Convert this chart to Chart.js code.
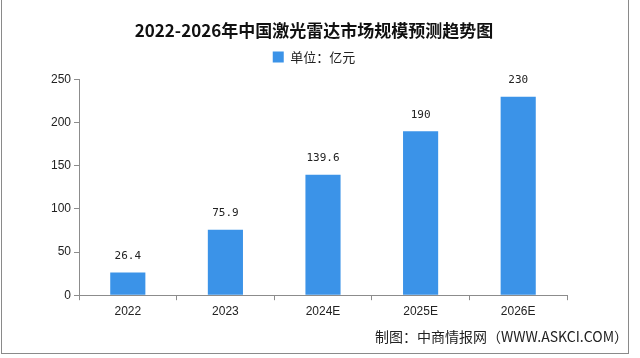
<!DOCTYPE html>
<html>
<head>
<meta charset="utf-8">
<script src="https://cdn.jsdelivr.net/npm/chart.js@4/dist/chart.umd.min.js"></script>
<style>
  html, body { margin: 0; padding: 0; background: #ffffff; }
  #wrap { width: 640px; height: 358px; }
</style>
</head>
<body>
<div id="wrap"><canvas id="c" width="640" height="358"></canvas></div>
<script>
const categories = ['2022', '2023', '2024E', '2025E', '2026E'];
const marketSize = [26.4, 75.9, 139.6, 190, 230];
const valueLabels = ['26.4', '75.9', '139.6', '190', '230'];
const yTicks = [0, 50, 100, 150, 200, 250];
const titleText = '2022-2026年中国激光雷达市场规模预测趋势图';
const seriesName = '单位：亿元';
const footerText = '制图：中商情报网（WWW.ASKCI.COM）';

const BAR_COLOR = '#3b93e8';
const AXIS_COLOR = '#8c8c8c';

// extra layout boxes (spacers) for precise placement
const spacerPlugin = {
  id: 'spacers',
  beforeInit(chart) {
    const mk = (position, size, weight) => ({
      position, weight, fullSize: false,
      options: {},
      top: 0, left: 0, right: 0, bottom: 0, width: 0, height: 0,
      isHorizontal() { return position === 'top' || position === 'bottom'; },
      update(maxWidth, maxHeight) {
        if (this.isHorizontal()) { this.width = maxWidth; this.height = size; }
        else { this.width = size; this.height = maxHeight; }
      },
      getPadding() { return {top: 0, left: 0, right: 0, bottom: 0}; },
      draw() {}
    });
    Chart.layouts.addBox(chart, mk('top', 6, -100));
    Chart.layouts.addBox(chart, mk('right', 61, -100));
  }
};

const borderPlugin = {
  id: 'frame',
  afterDraw(chart) {
    const ctx = chart.ctx;
    ctx.save();
    ctx.strokeStyle = '#8a8a8a';
    ctx.lineWidth = 1;
    ctx.strokeRect(1.5, -1, 627, 354.5);
    ctx.restore();
  }
};

const valueLabelPlugin = {
  id: 'valueLabels',
  afterDatasetsDraw(chart) {
    const ctx = chart.ctx;
    const meta = chart.getDatasetMeta(0);
    ctx.save();
    ctx.font = '11px "DejaVu Sans Mono", "Liberation Mono", monospace';
    ctx.fillStyle = '#222222';
    ctx.textAlign = 'center';
    ctx.textBaseline = 'bottom';
    meta.data.forEach((bar, i) => {
      ctx.fillText(valueLabels[i], bar.x, bar.y - 11);
    });
    ctx.restore();
  }
};

new Chart(document.getElementById('c'), {
  type: 'bar',
  data: {
    labels: categories,
    datasets: [{
      label: seriesName,
      data: marketSize,
      backgroundColor: BAR_COLOR,
      borderWidth: 0,
      barPercentage: 0.36,
      categoryPercentage: 1.0
    }]
  },
  options: {
    responsive: false,
    animation: false,
    layout: { padding: { left: 0, right: 12, top: 0, bottom: 13 } },
    plugins: {
      title: {
        display: true,
        text: titleText,
        color: '#111111',
        font: { family: '"Noto Sans CJK SC", "Noto Sans", sans-serif', size: 17, weight: 'bold' },
        padding: { top: 20, bottom: 4 }
      },
      subtitle: {
        display: true,
        position: 'bottom',
        align: 'end',
        text: footerText,
        color: '#222222',
        font: { family: '"Noto Sans CJK SC", "Noto Sans", sans-serif', size: 14 },
        padding: { top: 3, bottom: 0 }
      },
      legend: {
        display: true,
        labels: {
          boxWidth: 11,
          boxHeight: 11,
          padding: 6,
          color: '#222222',
          font: { family: '"Noto Sans CJK SC", "Noto Sans", sans-serif', size: 13 }
        }
      },
      tooltip: { enabled: false }
    },
    scales: {
      x: {
        offset: true,
        grid: {
          display: true,
          offset: true,
          drawOnChartArea: false,
          drawTicks: true,
          tickLength: 5,
          color: AXIS_COLOR
        },
        border: { display: true, color: AXIS_COLOR, width: 1 },
        ticks: {
          color: '#222222',
          padding: 4,
          font: { family: '"Liberation Sans", Arial, sans-serif', size: 12 }
        },
        afterFit(scale) { scale.height = 30; }
      },
      y: {
        min: 0,
        max: 250,
        afterBuildTicks(scale) { scale.ticks = yTicks.map(v => ({ value: v })); },
        grid: {
          display: true,
          drawOnChartArea: false,
          drawTicks: true,
          tickLength: 5,
          color: AXIS_COLOR
        },
        border: { display: true, color: AXIS_COLOR, width: 1 },
        ticks: {
          color: '#222222',
          padding: 3,
          font: { family: '"Liberation Sans", Arial, sans-serif', size: 12 }
        },
        afterFit(scale) { scale.width = 79; }
      }
    }
  },
  plugins: [spacerPlugin, valueLabelPlugin, borderPlugin]
});
</script>
</body>
</html>
